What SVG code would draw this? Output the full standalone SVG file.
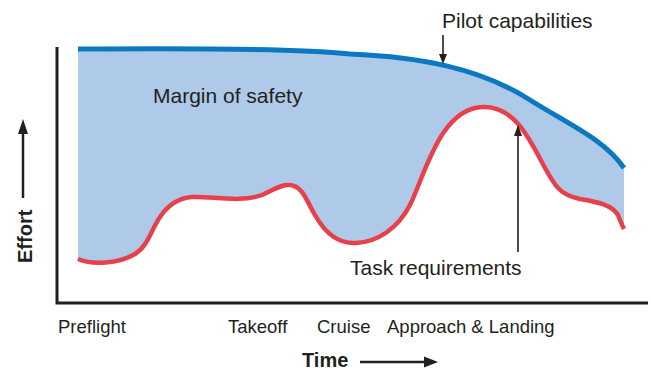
<svg xmlns="http://www.w3.org/2000/svg" width="651" height="371" viewBox="0 0 651 371">
<style>
.t{font-family:"Liberation Sans",Arial,sans-serif;fill:#231f20}
.lbl{font-size:21px}
.ax{font-size:18.5px}
.b{font-size:20px;font-weight:bold}
.axis{stroke:#231f20;stroke-width:3;fill:none}
.ptr{stroke:#231f20;stroke-width:1.6;fill:none}
.big{stroke:#231f20;stroke-width:2.5;fill:none}
.head{fill:#231f20}
</style>
<rect width="651" height="371" fill="#ffffff"/>
<g id="margin">
<path fill="#afc9e9" d="M78,49 C200,48 300,49 350,54 C420,57 480,68 530,100 C570,125 605,140 624,168 L624,229 C622,225 620,220 618,215 C612,205 598,202 580,199 C560,195 555,186 545,168 C530,140 515,106 483,107 C440,108 425,175 410,205 C398,228 378,242 356,243 C338,244 325,233 315,215 C307,202 303,186 290,185 C281,184 274,190 262,195 C240,203 212,196 192,197 C178,198 168,205 160,217 C151,230 148,246 135,254 C118,264 92,265 78,259 Z"/>
<text class="t lbl" x="153" y="103">Margin of safety</text>
</g>
<g id="axes">
<path class="axis" d="M57,47 V303 H648"/>
</g>
<g id="pilot-capabilities">
<path fill="none" stroke="#0b79c1" stroke-width="5" d="M78,49 C200,48 300,49 350,54 C420,57 480,68 530,100 C570,125 605,140 624,168"/>
<text class="t lbl" x="442" y="28">Pilot capabilities</text>
</g>
<g id="task-requirements">
<path fill="none" stroke="#e8404b" stroke-width="4.5" d="M78,259 C92,265 118,264 135,254 C148,246 151,230 160,217 C168,205 178,198 192,197 C212,196 240,203 262,195 C274,190 281,184 290,185 C303,186 307,202 315,215 C325,233 338,244 356,243 C378,242 398,228 410,205 C425,175 440,108 483,107 C515,106 530,140 545,168 C555,186 560,195 580,199 C598,202 612,205 618,215 C620,220 622,225 624,229"/>
<text class="t lbl" x="350" y="275">Task requirements</text>
</g>
<g id="labels">
<text class="t ax" x="58" y="333">Preflight</text>
<text class="t ax" x="228" y="333">Takeoff</text>
<text class="t ax" x="317" y="333">Cruise</text>
<text class="t ax" x="387" y="333">Approach &amp; Landing</text>
<text class="t b" x="302" y="367">Time</text>
<text class="t b" transform="translate(32,263) rotate(-90)">Effort</text>
</g>
<g id="connectors">
<path class="ptr" d="M443,35 V56"/>
<polygon class="head" points="443,64 439,54 447,54"/>
<path class="ptr" d="M518,252 V134"/>
<polygon class="head" points="518,125 514,136 522,136"/>
<path class="big" d="M23,198 V130"/>
<polygon class="head" points="23,119 18,134 28,134"/>
<path class="big" d="M360,362 H426"/>
<polygon class="head" points="438,362 424,356.5 424,367.5"/>
</g>
</svg>
